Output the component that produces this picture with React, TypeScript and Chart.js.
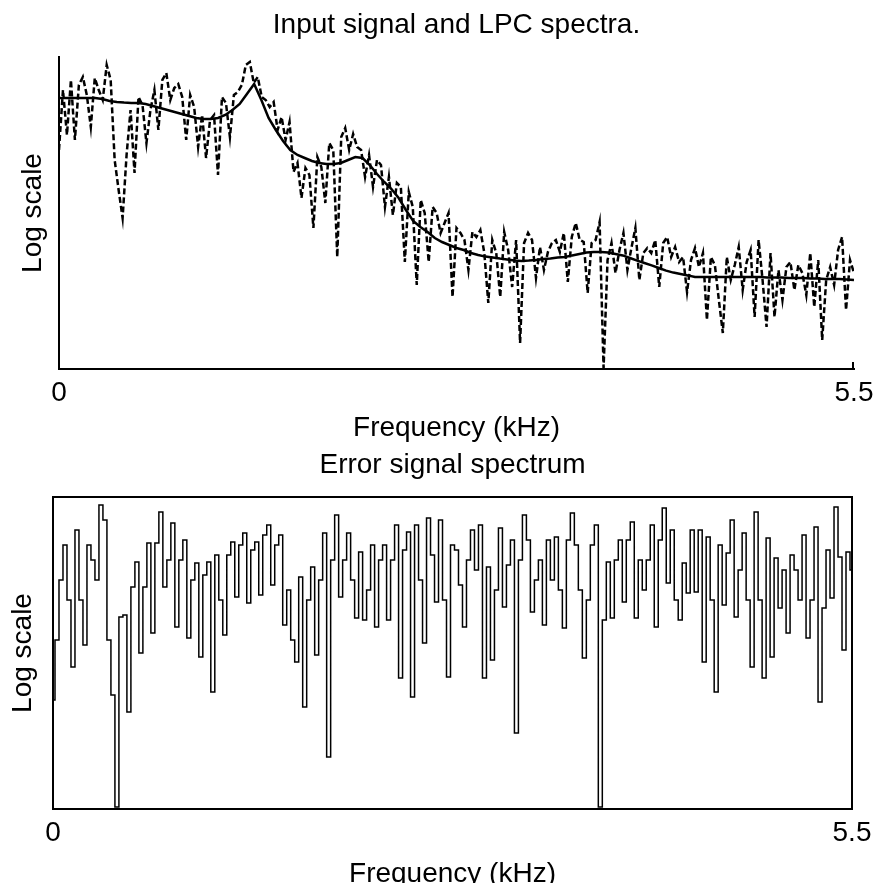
import React, { useEffect, useRef } from 'react';
import { Chart, registerables } from 'chart.js';

Chart.register(...registerables);

const FONT = "'Liberation Sans', Arial, Helvetica, sans-serif";
const INK = '#000';

// Frequency axis (kHz)
const F_MAX = 5.5;
const xTickValues = [0, 5.5];
const xTickLabels = ['0', '5.5'];

// Input signal spectrum (log magnitude, arbitrary dB-like units), 201 bins over 0..5.5 kHz
const inputSpectrum = [
  54.75, 69.75, 58.5, 72.25, 57.25, 71, 73, 68.5, 60.5, 72.75,
  69.75, 67.25, 76, 72.25, 52.25, 44.75, 37.75, 53.5, 64.75, 49,
  68, 66, 56.5, 64.75, 69.75, 59.75, 72.25, 74, 67.25, 70.25,
  71.25, 68, 57.25, 68.5, 65.5, 55.5, 63.5, 52.75, 62.25, 63.5,
  48.5, 68, 66.5, 58, 68.5, 69.25, 71, 76, 76.75, 71.5,
  73, 68, 67.25, 65.5, 66.75, 59.75, 63, 57.25, 61.75, 49.25,
  51.5, 42.75, 50.25, 48.5, 35.25, 53, 50.5, 41.5, 56.5, 54.75,
  28, 58, 60.25, 54.75, 58.75, 55.5, 54.75, 48, 53.5, 45.5,
  52.25, 51, 40.5, 48, 38.5, 46.5, 45.5, 26.75, 44.25, 40.5,
  21, 42.25, 39, 26.75, 40.5, 39, 34, 36.5, 39, 18,
  35.25, 34, 32.25, 24.75, 34.25, 33, 34.75, 29, 16.5, 32.25,
  29, 18, 34.25, 29.75, 20.5, 32.25, 6.5, 31.5, 34, 32.25,
  22.75, 30.5, 24.75, 29.25, 31.5, 32.25, 29.25, 34, 21.75, 33,
  36.5, 32.25, 31.75, 19, 31.5, 32.25, 36.75, 0.25, 27.25, 31.5,
  24, 29.75, 34, 24.75, 30.25, 35.25, 22.25, 29, 30.25, 29,
  32.25, 20.5, 31.5, 33, 28, 30.5, 26.75, 28, 19.25, 27.25,
  30.25, 25.5, 29, 12.25, 28, 26, 17.25, 9, 28, 22.25,
  26, 30.5, 19.75, 26.75, 29.75, 13, 32.25, 22.25, 10.5, 29,
  13, 24.75, 17.25, 25.5, 26.75, 19.75, 26, 24, 18.5, 29,
  15.5, 27.25, 7.25, 22.25, 25.5, 21, 29.75, 33, 14.75, 27.25,
  24,
];

// LPC envelope, 111 points over 0..5.5 kHz (0.05 kHz steps)
const lpcEnvelope = [
  67.75, 67.75, 67.75, 67.75, 67.75, 67.75, 67.5, 67, 66.75, 66.6,
  66.5, 66.5, 66.25, 65.75, 65.25, 64.75, 64.25, 63.75, 63.25, 62.75,
  62.5, 62.5, 62.75, 63.5, 64.75, 66.25, 68.75, 71.25, 67.25, 62.75,
  59.75, 57, 54.75, 53.5, 52.75, 52, 51.5, 51.25, 51.25, 51.5,
  52.25, 53, 52.75, 51, 48.75, 46.75, 45, 42.75, 39.75, 37,
  35.5, 34.25, 32.75, 31.75, 31, 30.25, 29.75, 29, 28.5, 28.1,
  27.9, 27.6, 27.4, 27.1, 27, 27.1, 27.25, 27.5, 27.6, 27.9,
  28, 28.4, 28.75, 29.1, 29.25, 29.25, 29.1, 28.75, 28.4, 27.75,
  27.1, 26.5, 25.9, 25.25, 24.6, 24.1, 23.75, 23.4, 23, 23,
  23, 23, 23, 23, 23, 23, 23, 23, 22.9, 22.9,
  22.9, 22.75, 22.75, 22.75, 22.6, 22.6, 22.5, 22.5, 22.5, 22.4,
  22.25,
];

// Error (residual) signal spectrum, 201 bins over 0..5.5 kHz
const errorSpectrum = [
  27.25, 42.25, 57.25, 66, 52.25, 35.5, 69.75, 52.25, 41, 66,
  62.25, 57.25, 76, 72.25, 42.25, 28.5, 0.5, 48, 48.5, 24.25,
  55.5, 61.75, 39, 55.5, 66.5, 44, 66.5, 74.25, 55.5, 62.25,
  71.5, 45.5, 62.25, 67.25, 42.75, 57.25, 61.5, 38, 58.5, 61.75,
  29.25, 63.5, 52.25, 43.5, 63.5, 66.75, 53, 66, 69, 51.5,
  64.75, 66.75, 53.5, 68.5, 71, 56, 66, 68.5, 46, 54.75,
  42.25, 36.75, 58, 25.5, 52.25, 60.5, 38.5, 57.25, 69, 13,
  62.25, 73.5, 53, 62.25, 69, 57.25, 47.75, 64.25, 47.25, 54.75,
  66, 45.5, 62.25, 66, 47.25, 62.25, 71, 32.75, 64.75, 69.25,
  28, 71, 57.25, 41.5, 72.75, 63.5, 51.75, 72.25, 52.25, 33,
  66, 64.75, 56, 45.5, 62.25, 69.75, 59.75, 71, 32.75, 60.5,
  37.25, 54.75, 70.25, 50.5, 61, 67.25, 19, 62.25, 73.5, 67.25,
  49.25, 57.25, 62.25, 46, 67.25, 57.25, 68, 54.75, 45.25, 67.25,
  74, 66, 54.75, 37.75, 52.25, 66, 71, 0.5, 47.25, 61.75,
  47.75, 62.25, 67.25, 51.75, 67.25, 71.75, 47.75, 62.25, 54.75, 62.25,
  71, 45.5, 67.25, 75.25, 56.5, 69.75, 52.25, 47.25, 61.5, 54,
  69.75, 54.25, 69.75, 36.75, 68, 52.25, 29.25, 66, 51, 64,
  72.25, 48, 59.75, 69, 52.25, 35.5, 74.25, 52.25, 32.75, 67.75,
  38, 62.75, 50.25, 59.75, 44, 63.5, 59.75, 52.25, 68.5, 42.75,
  52.25, 70.5, 26.75, 50.25, 64.75, 52.75, 75.5, 63, 39.75, 64.25,
  59.75,
];

const Y_MIN = 0;
const Y_MAX = 78;

const toPoints = (vals: number[]) =>
  vals.map((v, i) => ({ x: (i * F_MAX) / (vals.length - 1), y: v }));

const boxPlugin = {
  id: 'plotBox',
  afterDatasetsDraw(chart: any) {
    const { ctx, chartArea } = chart;
    const { left, top, right, bottom } = chartArea;
    ctx.save();
    ctx.strokeStyle = INK;
    ctx.lineWidth = 2;
    ctx.strokeRect(left, top, right - left, bottom - top);
    ctx.restore();
  },
};

// small end tick at the right end of the top plot's frequency axis
const endTickPlugin = {
  id: 'endTick',
  afterDatasetsDraw(chart: any) {
    const { ctx, chartArea } = chart;
    ctx.save();
    ctx.strokeStyle = INK;
    ctx.lineWidth = 2;
    ctx.beginPath();
    ctx.moveTo(chartArea.right - 1, chartArea.bottom);
    ctx.lineTo(chartArea.right - 1, chartArea.bottom - 7);
    ctx.stroke();
    ctx.restore();
  },
};

function xScale(axisHeight: number, titlePadBottom: number, showBorder: boolean) {
  return {
    type: 'linear',
    min: 0,
    max: F_MAX,
    grid: { display: false, drawTicks: false },
    border: { display: showBorder, color: INK, width: 2 },
    afterBuildTicks: (s: any) => {
      s.ticks = xTickValues.map((v) => ({ value: v }));
    },
    afterFit: (s: any) => {
      s.height = axisHeight;
      s.paddingLeft = 0;
      s.paddingRight = 0;
    },
    ticks: {
      autoSkip: false,
      maxRotation: 0,
      padding: 7,
      color: INK,
      font: { family: FONT, size: 28 },
      callback: (value: any) => {
        const idx = xTickValues.indexOf(Number(value));
        return idx >= 0 ? xTickLabels[idx] : '';
      },
    },
    title: {
      display: true,
      text: 'Frequency (kHz)',
      color: INK,
      font: { family: FONT, size: 28 },
      padding: { top: 0, bottom: titlePadBottom },
    },
  };
}

function yScale(axisWidth: number, titlePadTop: number, showBorder: boolean) {
  return {
    type: 'linear',
    min: Y_MIN,
    max: Y_MAX,
    grid: { display: false, drawTicks: false },
    border: { display: showBorder, color: INK, width: 2 },
    ticks: { display: false },
    afterFit: (s: any) => {
      s.width = axisWidth;
    },
    title: {
      display: true,
      text: 'Log scale',
      color: INK,
      font: { family: FONT, size: 28 },
      padding: { top: titlePadTop, bottom: 0 },
    },
  };
}

export default function App() {
  const topRef = useRef<HTMLCanvasElement | null>(null);
  const botRef = useRef<HTMLCanvasElement | null>(null);

  useEffect(() => {
    if (!topRef.current || !botRef.current) return;

    const top = new Chart(topRef.current, {
      type: 'line',
      data: {
        datasets: [
          {
            label: 'LPC spectrum',
            data: toPoints(lpcEnvelope),
            borderColor: INK,
            borderWidth: 2.5,
            pointRadius: 0,
            tension: 0,
            fill: false,
          },
          {
            label: 'Input signal spectrum',
            data: toPoints(inputSpectrum),
            borderColor: INK,
            borderWidth: 2.5,
            borderDash: [6, 3],
            pointRadius: 0,
            tension: 0,
            fill: false,
          },
        ],
      },
      options: {
        animation: false,
        responsive: false,
        maintainAspectRatio: false,
        devicePixelRatio: 1,
        layout: { padding: { left: 0, right: 21, top: 0, bottom: 0 } },
        plugins: {
          legend: { display: false },
          tooltip: { enabled: false },
          title: {
            display: true,
            fullSize: false,
            text: 'Input signal and LPC spectra.',
            color: INK,
            font: { family: FONT, size: 28, weight: 'normal' },
            padding: { top: 8, bottom: 15.4 },
          },
        },
        scales: {
          x: xScale(76, 0, true) as any,
          y: yScale(59, 16, true) as any,
        },
      },
      plugins: [endTickPlugin],
    } as any);

    const bot = new Chart(botRef.current, {
      type: 'line',
      data: {
        datasets: [
          {
            label: 'Error signal spectrum',
            data: toPoints(errorSpectrum),
            borderColor: INK,
            borderWidth: 1.5,
            pointRadius: 0,
            stepped: 'middle',
            fill: false,
          },
        ],
      },
      options: {
        animation: false,
        responsive: false,
        maintainAspectRatio: false,
        devicePixelRatio: 1,
        layout: { padding: { left: 0, right: 23, top: 0, bottom: 0 } },
        plugins: {
          legend: { display: false },
          tooltip: { enabled: false },
          title: {
            display: true,
            fullSize: false,
            text: 'Error signal spectrum',
            color: INK,
            font: { family: FONT, size: 28, weight: 'normal' },
            padding: { top: 3.2, bottom: 15.2 },
          },
        },
        scales: {
          x: xScale(106, 24, false) as any,
          y: yScale(53, 6, false) as any,
        },
      },
      plugins: [boxPlugin],
    } as any);

    return () => {
      top.destroy();
      bot.destroy();
    };
  }, []);

  return (
    <div
      style={{
        position: 'absolute',
        left: 0,
        top: 0,
        width: 875,
        height: 883,
        overflow: 'hidden',
        background: '#fff',
      }}
    >
      <canvas
        ref={topRef}
        width={875}
        height={445}
        style={{ position: 'absolute', left: 0, top: 0, display: 'block' }}
      />
      <canvas
        ref={botRef}
        width={875}
        height={470}
        style={{ position: 'absolute', left: 0, top: 445, display: 'block' }}
      />
    </div>
  );
}
